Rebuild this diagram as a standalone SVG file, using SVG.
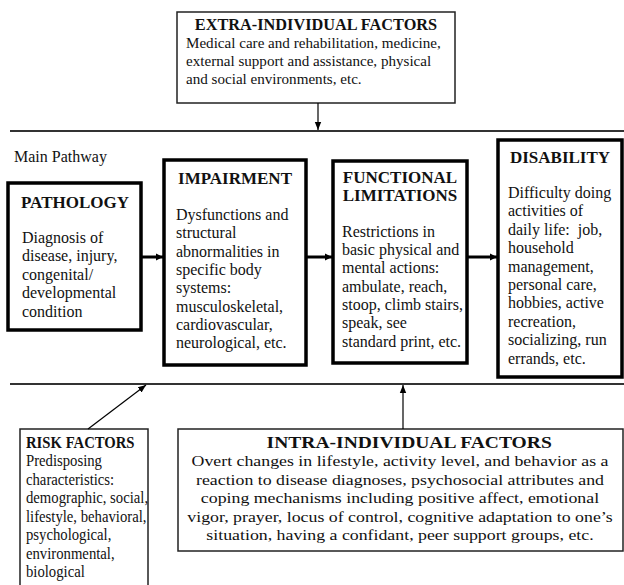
<svg xmlns="http://www.w3.org/2000/svg" width="624" height="585" viewBox="0 0 624 585" font-family="'Liberation Serif', 'DejaVu Serif', serif">
<defs>
<marker id="ah" viewBox="0 0 10 10" refX="10" refY="5" markerWidth="7" markerHeight="8" orient="auto" markerUnits="userSpaceOnUse"><path d="M0,0 L10,5 L0,10 z" fill="#000"/></marker>
<marker id="ahs" viewBox="0 0 10 10" refX="10" refY="5" markerWidth="8" markerHeight="8" orient="auto" markerUnits="userSpaceOnUse"><path d="M0,1 L10,5 L0,9 z" fill="#000"/></marker>
</defs>
<style>
text{font-family:'Liberation Serif','DejaVu Serif',serif;fill:#111}
.t{font-weight:bold;font-size:17px}
.b{font-size:16px}
.m{text-anchor:middle}
.et{font-weight:bold;font-size:16.3px}
.eb{font-size:15.1px}
.rt{font-weight:bold;font-size:16px}
.rb{font-size:16px}
.it{font-weight:bold;font-size:17px}
.ib{font-size:15.5px}
.thick{fill:#fff;stroke:#000;stroke-width:3.5}
.thin{fill:#fff;stroke:#222;stroke-width:1.5}
.rule{stroke:#333;stroke-width:2}
.c{stroke:#000;fill:none}
</style>
<rect width="624" height="585" fill="#fff"/>
<g id="rules">
<line class="rule" x1="10" y1="131" x2="624" y2="131"/>
<line class="rule" x1="10" y1="384" x2="624" y2="384"/>
</g>
<text class="b" x="14" y="162">Main Pathway</text>
<g id="extra">
<rect class="thin" x="177" y="12" width="278" height="91"/>
<text class="et m" x="316" y="30">EXTRA-INDIVIDUAL FACTORS</text>
<text class="eb" x="186" y="48">Medical care and rehabilitation, medicine,</text>
<text class="eb" x="186" y="66">external support and assistance, physical</text>
<text class="eb" x="186" y="84">and social environments, etc.</text>
</g>
<g id="pathology">
<rect class="thick" x="8" y="183" width="133" height="147"/>
<text class="t m" x="75" y="208">PATHOLOGY</text>
<text class="b" x="22" y="243">Diagnosis of</text>
<text class="b" x="22" y="261">disease, injury,</text>
<text class="b" x="22" y="280">congenital/</text>
<text class="b" x="22" y="298">developmental</text>
<text class="b" x="22" y="317">condition</text>
</g>
<g id="impairment">
<rect class="thick" x="164" y="160" width="142" height="205"/>
<text class="t m" x="235" y="184">IMPAIRMENT</text>
<text class="b" x="176" y="220">Dysfunctions and</text>
<text class="b" x="176" y="238">structural</text>
<text class="b" x="176" y="257">abnormalities in</text>
<text class="b" x="176" y="275">specific body</text>
<text class="b" x="176" y="293">systems:</text>
<text class="b" x="176" y="312">musculoskeletal,</text>
<text class="b" x="176" y="330">cardiovascular,</text>
<text class="b" x="176" y="348">neurological, etc.</text>
</g>
<g id="functional">
<rect class="thick" x="333" y="161" width="134" height="202"/>
<text class="t m" x="400" y="183">FUNCTIONAL</text>
<text class="t m" x="400" y="201">LIMITATIONS</text>
<text class="b" x="342" y="237">Restrictions in</text>
<text class="b" x="342" y="255">basic physical and</text>
<text class="b" x="342" y="273">mental actions:</text>
<text class="b" x="342" y="292">ambulate, reach,</text>
<text class="b" x="342" y="310">stoop, climb stairs,</text>
<text class="b" x="342" y="328">speak, see</text>
<text class="b" x="342" y="347">standard print, etc.</text>
</g>
<g id="disability">
<rect class="thick" x="498" y="140" width="124" height="237"/>
<text class="t m" x="560" y="163">DISABILITY</text>
<text class="b" x="508" y="198">Difficulty doing</text>
<text class="b" x="508" y="216">activities of</text>
<text class="b" x="508" y="235" xml:space="preserve">daily life:  job,</text>
<text class="b" x="508" y="253">household</text>
<text class="b" x="508" y="272">management,</text>
<text class="b" x="508" y="290">personal care,</text>
<text class="b" x="508" y="308">hobbies, active</text>
<text class="b" x="508" y="327">recreation,</text>
<text class="b" x="508" y="345">socializing, run</text>
<text class="b" x="508" y="364">errands, etc.</text>
</g>
<g id="risk">
<rect class="thin" x="20" y="429" width="128" height="162"/>
<g transform="translate(26,0) scale(0.92,1) translate(-26,0)">
<text class="rt" x="26" y="448">RISK FACTORS</text>
<text class="rb" x="26" y="466">Predisposing</text>
<text class="rb" x="26" y="485">characteristics:</text>
<text class="rb" x="26" y="503">demographic, social,</text>
<text class="rb" x="26" y="522">lifestyle, behavioral,</text>
<text class="rb" x="26" y="540">psychological,</text>
<text class="rb" x="26" y="559">environmental,</text>
<text class="rb" x="26" y="577">biological</text>
</g>
</g>
<g id="intra">
<rect class="thin" x="178" y="429" width="445" height="122"/>
<g transform="translate(400,0) scale(1.15,1) translate(-400,0)">
<text class="it m" x="408" y="448">INTRA-INDIVIDUAL FACTORS</text>
<text class="ib m" x="400" y="466">Overt changes in lifestyle, activity level, and behavior as a</text>
<text class="ib m" x="400" y="485">reaction to disease diagnoses, psychosocial attributes and</text>
<text class="ib m" x="400" y="503">coping mechanisms including positive affect, emotional</text>
<text class="ib m" x="400" y="522">vigor, prayer, locus of control, cognitive adaptation to one’s</text>
<text class="ib m" x="400" y="540">situation, having a confidant, peer support groups, etc.</text>
</g>
</g>
<g id="connectors">
<line class="c" stroke-width="1.2" x1="318" y1="103" x2="318" y2="130" marker-end="url(#ahs)"/>
<line class="c" stroke-width="3" x1="141" y1="257" x2="163" y2="257" marker-end="url(#ah)"/>
<line class="c" stroke-width="3" x1="306" y1="257" x2="332" y2="257" marker-end="url(#ah)"/>
<line class="c" stroke-width="3" x1="467" y1="257" x2="497" y2="257" marker-end="url(#ah)"/>
<line class="c" stroke-width="1.2" x1="88" y1="429" x2="146" y2="385" marker-end="url(#ahs)"/>
<line class="c" stroke-width="1.2" x1="403" y1="429" x2="403" y2="385" marker-end="url(#ahs)"/>
</g>
</svg>
